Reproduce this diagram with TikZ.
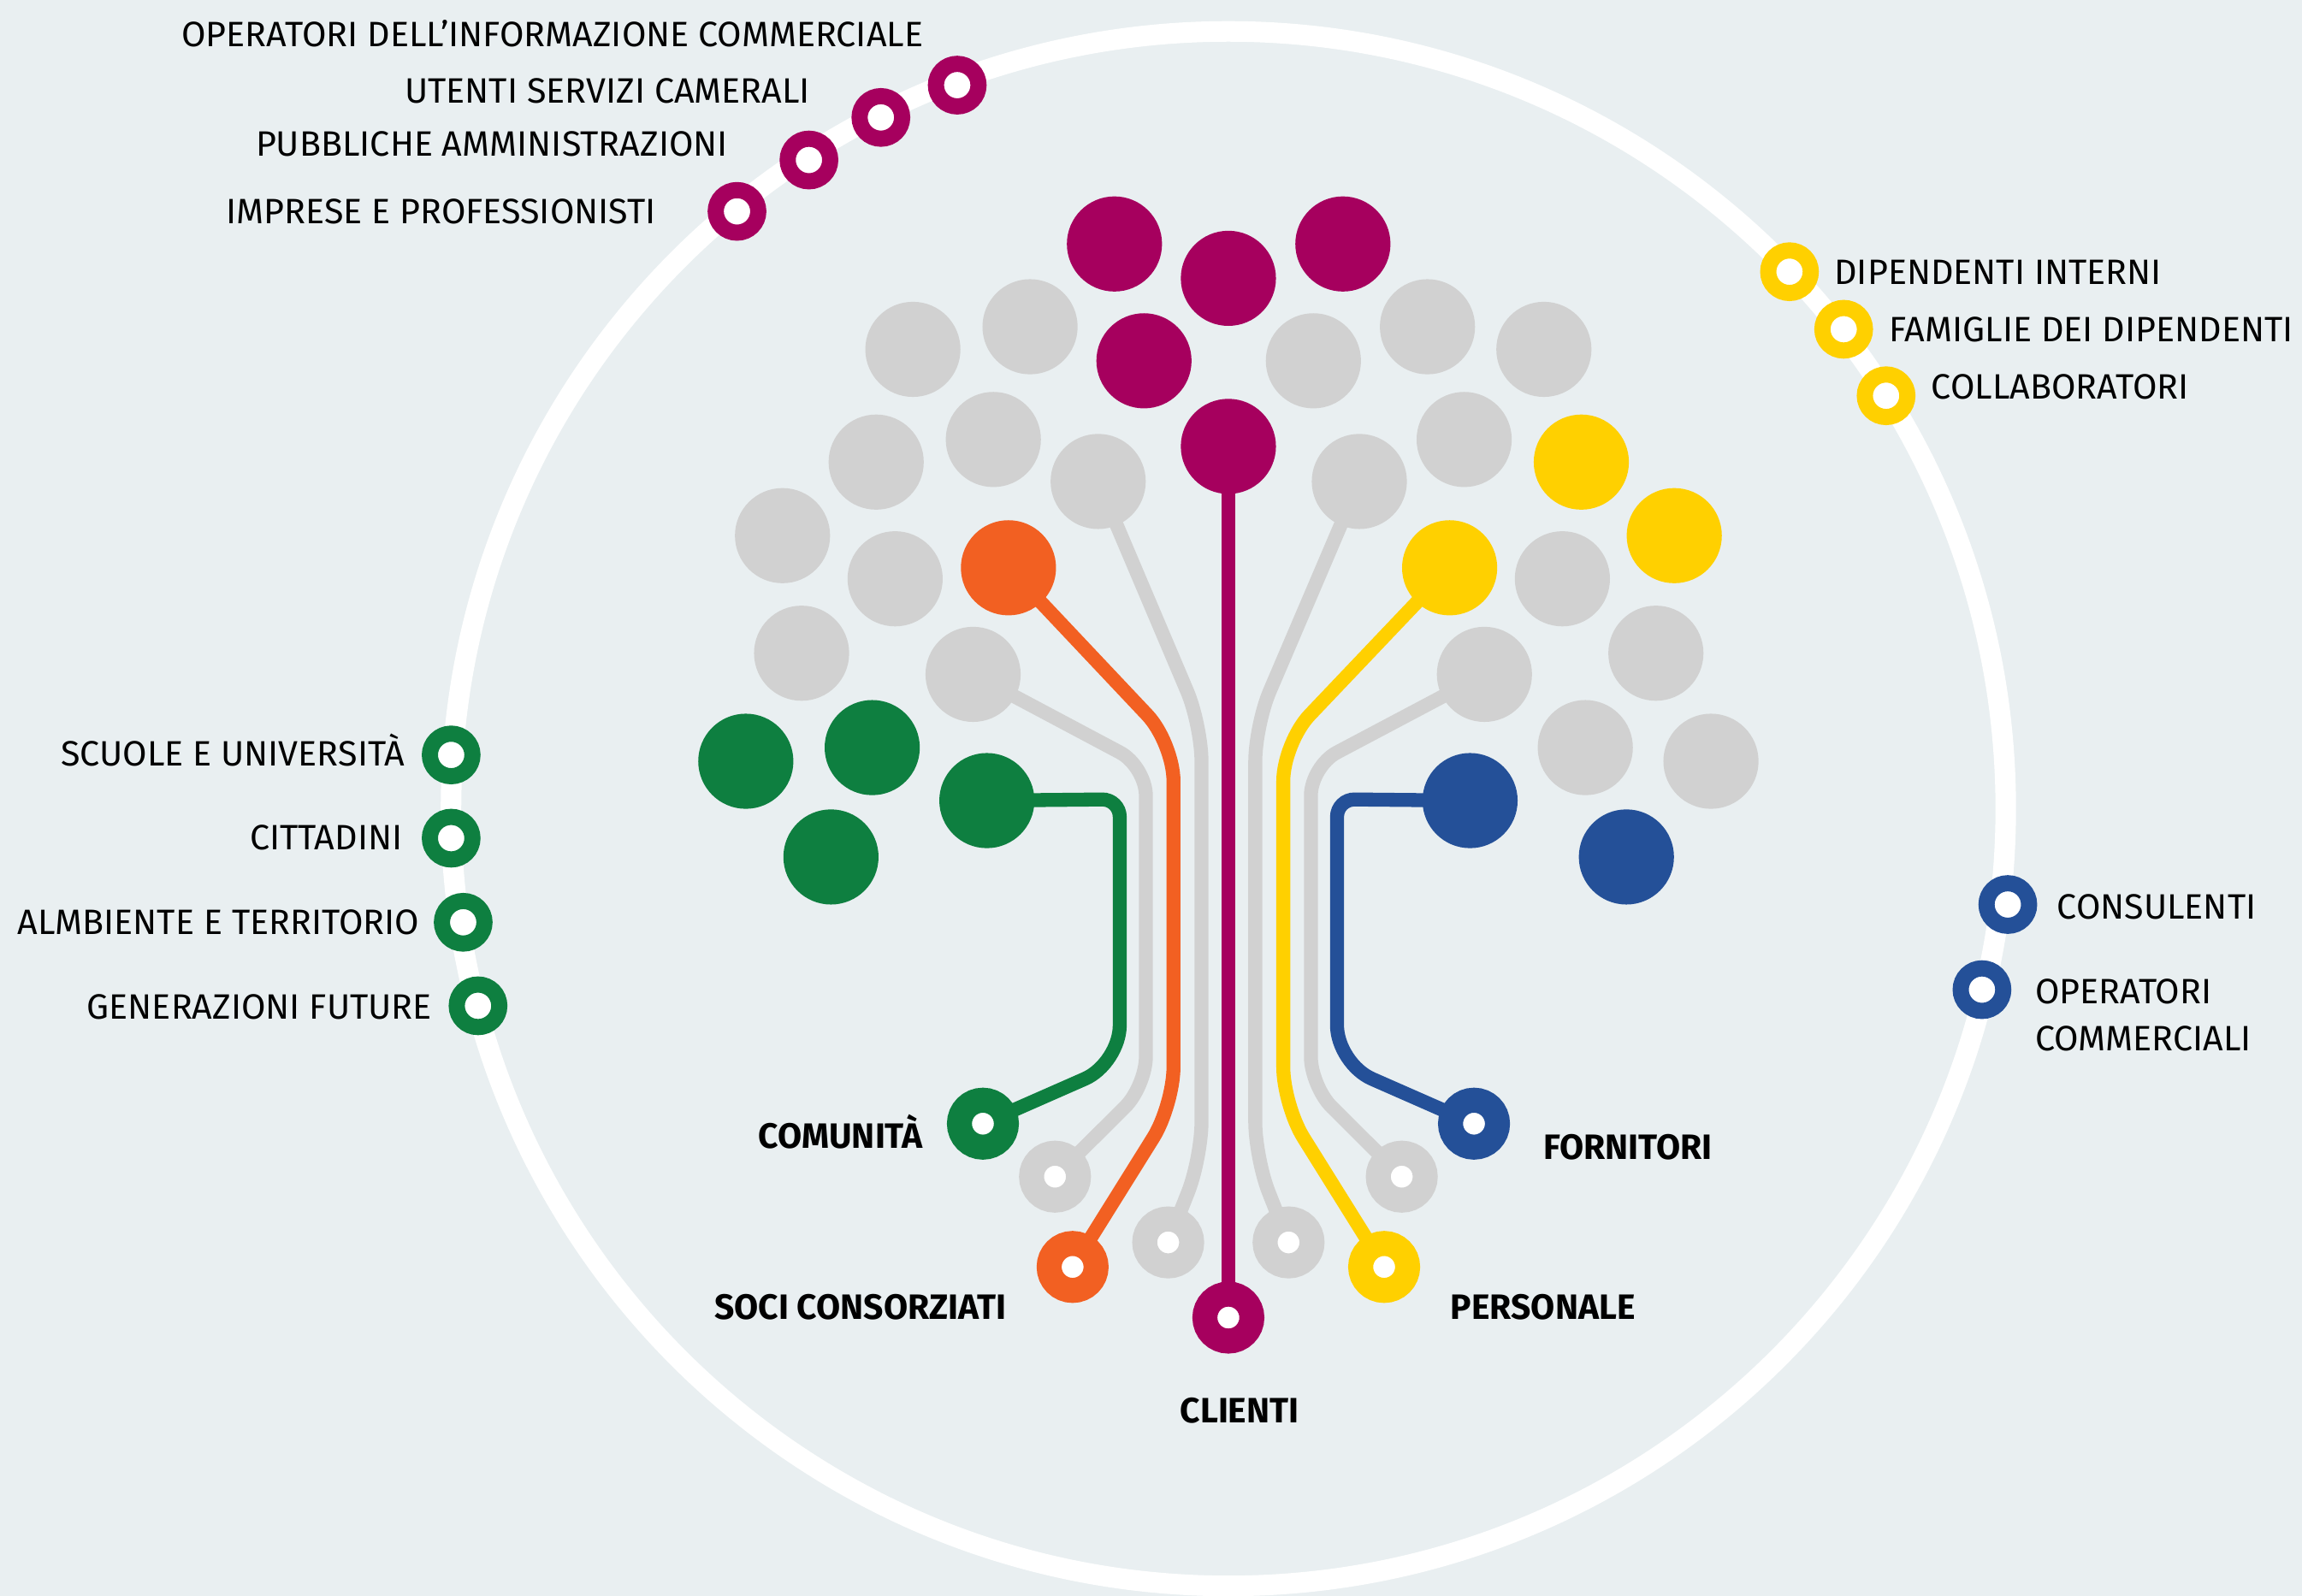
\documentclass[tikz,border=0pt]{standalone}
\usepackage{fontspec}
\setmainfont{Fira Sans}[FakeStretch=1.0, BoldFeatures={FakeStretch=0.99}]
\definecolor{bgc}{RGB}{233,239,241}
\definecolor{mag}{RGB}{166,0,94}
\definecolor{gry}{RGB}{209,209,209}
\definecolor{org}{RGB}{242,96,34}
\definecolor{yel}{RGB}{255,208,0}
\definecolor{grn}{RGB}{14,127,64}
\definecolor{blu}{RGB}{36,80,152}
\pgfdeclarelayer{bg}
\pgfdeclarelayer{wires}
\pgfsetlayers{bg,wires,main}
\tikzset{
  blob/.style={circle, minimum size=64.8pt, inner sep=0pt, outer sep=0pt, draw=none},
  knob/.style={circle, minimum size=29pt, inner sep=0pt, line width=11pt, fill=white},
  bigring/.style={circle, minimum size=32pt, inner sep=0pt, line width=17pt, fill=white},
  conn/.style={line width=9.5pt},
  lbl/.style={inner sep=0pt, text=black, font=\fontsize{24}{32}\selectfont},
  blbl/.style={inner sep=0pt, text=black, font=\fontsize{24}{32}\selectfont\bfseries},
}
\begin{document}
\begin{tikzpicture}[x=1pt,y=-1pt]
\useasboundingbox (0,0) rectangle (1568,1087);
\begin{pgfonlayer}{bg}
\fill[bgc] (0,0) rectangle (1568,1087);
\node[circle, draw=white, line width=14pt, minimum size=1059pt, inner sep=0pt] (orbit) at (836.7,550.9) {};
\end{pgfonlayer}

% ---- blobs ----
\node[blob, fill=mag] (m1) at (759.1,166.2) {};
\node[blob, fill=mag] (m2) at (836.7,189.6) {};
\node[blob, fill=mag] (m3) at (914.7,166.2) {};
\node[blob, fill=mag] (m4) at (779.2,245.8) {};
\node[blob, fill=mag] (m5) at (836.7,304.1) {};

\node[blob, fill=gry] (g1) at (621.8,238) {};
\node[blob, fill=gry] (g2) at (701.6,222.6) {};
\node[blob, fill=gry] (g3) at (894.6,245.8) {};
\node[blob, fill=gry] (g4) at (972.3,222.6) {};
\node[blob, fill=gry] (g5) at (1051.6,238) {};
\node[blob, fill=gry] (g6) at (596.8,314.8) {};
\node[blob, fill=gry] (g7) at (676.6,299.4) {};
\node[blob, fill=gry] (gl1) at (748,328) {};
\node[blob, fill=gry] (gr1) at (925.9,328) {};
\node[blob, fill=gry] (g8) at (997.3,299.4) {};
\node[blob, fill=gry] (g9) at (533,364.9) {};
\node[blob, fill=gry] (g10) at (609.7,394.3) {};
\node[blob, fill=gry] (g11) at (1064.2,394.3) {};
\node[blob, fill=gry] (g12) at (546,445) {};
\node[blob, fill=gry] (gl2) at (662.8,459.4) {};
\node[blob, fill=gry] (gr2) at (1011.1,459.4) {};
\node[blob, fill=gry] (g13) at (1127.9,445) {};
\node[blob, fill=gry] (g14) at (1079.8,509.3) {};
\node[blob, fill=gry] (g15) at (1165.4,518.6) {};

\node[blob, fill=org] (o1) at (686.9,386.8) {};
\node[blob, fill=yel] (y1) at (987.4,386.8) {};
\node[blob, fill=yel] (y2) at (1077.1,314.8) {};
\node[blob, fill=yel] (y3) at (1140.4,364.9) {};
\node[blob, fill=grn] (v1) at (508,518.6) {};
\node[blob, fill=grn] (v2) at (594.1,509.3) {};
\node[blob, fill=grn] (v3) at (566,583.8) {};
\node[blob, fill=grn] (v4) at (672.2,545.4) {};
\node[blob, fill=blu] (b1) at (1001.3,545.4) {};
\node[blob, fill=blu] (b2) at (1107.8,583.8) {};

% ---- bottom rings ----
\node[bigring, draw=grn] (rcom) at (669.5,765.5) {};
\node[bigring, draw=gry] (rgl2) at (718.6,801.6) {};
\node[bigring, draw=org] (rsoc) at (730.6,863.1) {};
\node[bigring, draw=gry] (rgl1) at (795.7,846.4) {};
\node[bigring, draw=mag] (rcli) at (836.7,897.6) {};
\node[bigring, draw=gry] (rgr1) at (877.7,846.4) {};
\node[bigring, draw=yel] (rper) at (942.8,863.1) {};
\node[bigring, draw=gry] (rgr2) at (954.8,801.6) {};
\node[bigring, draw=blu] (rfor) at (1004,765.5) {};

% ---- connectors ----
\begin{pgfonlayer}{wires}
\draw[conn, mag] (m5.center) -- (rcli.center);
\draw[conn, org, rounded corners=26pt] (o1.center) -- (799.3,506) -- (799.3,753) -- (rsoc.center);
\draw[conn, yel, rounded corners=26pt] (y1.center) -- (874.1,506) -- (874.1,753) -- (rper.center);
\draw[conn, gry, rounded corners=25pt] (gl1.center) -- (818.4,494) -- (818.4,789) -- (rgl1.center);
\draw[conn, gry, rounded corners=25pt] (gr1.center) -- (855,494) -- (855,789) -- (rgr1.center);
\draw[conn, gry, rounded corners=20pt] (gl2.center) -- (780.5,522) -- (780.5,740) -- (rgl2.center);
\draw[conn, gry, rounded corners=20pt] (gr2.center) -- (892.9,522) -- (892.9,740) -- (rgr2.center);
\draw[conn, grn] (v4.center) [rounded corners=12pt] -- (762.7,544.5) [rounded corners=26pt] -- (762.7,724.5) -- (rcom.center);
\draw[conn, blu] (b1.center) [rounded corners=12pt] -- (910.7,544.5) [rounded corners=26pt] -- (910.7,724.5) -- (rfor.center);
\end{pgfonlayer}

% ---- outer knobs ----
\node[knob, draw=mag] (k1) at (652,58) {};
\node[knob, draw=mag] (k2) at (600,80) {};
\node[knob, draw=mag] (k3) at (551,109) {};
\node[knob, draw=mag] (k4) at (502,144) {};
\node[knob, draw=yel] (k5) at (1218.9,185.1) {};
\node[knob, draw=yel] (k6) at (1255.8,224.3) {};
\node[knob, draw=yel] (k7) at (1284.7,269.6) {};
\node[knob, draw=grn] (k8) at (307.3,514.3) {};
\node[knob, draw=grn] (k9) at (307.3,571) {};
\node[knob, draw=grn] (k10) at (315.5,628.3) {};
\node[knob, draw=grn] (k11) at (325.6,685.2) {};
\node[knob, draw=blu] (k12) at (1367.6,616.2) {};
\node[knob, draw=blu] (k13) at (1350,674.2) {};

% ---- outer labels ----
\node[lbl, anchor=base east] (t1) at (629,32) {OPERATORI DELL’INFORMAZIONE COMMERCIALE};
\node[lbl, anchor=base east] (t2) at (552,70.3) {UTENTI SERVIZI CAMERALI};
\node[lbl, anchor=base east] (t3) at (496,106.4) {PUBBLICHE AMMINISTRAZIONI};
\node[lbl, anchor=base east] (t4) at (447,152.5) {IMPRESE E PROFESSIONISTI};
\node[lbl, anchor=base west] (t5) at (1249.3,193.8) {DIPENDENTI INTERNI};
\node[lbl, anchor=base west] (t6) at (1286.7,232.7) {FAMIGLIE DEI DIPENDENTI};
\node[lbl, anchor=base west] (t7) at (1315.4,271.9) {COLLABORATORI};
\node[lbl, anchor=base east] (t8) at (275.8,521.5) {SCUOLE E UNIVERSITÀ};
\node[lbl, anchor=base east] (t9) at (274.3,578.8) {CITTADINI};
\node[lbl, anchor=base east] (t10) at (285.9,636.7) {ALMBIENTE E TERRITORIO};
\node[lbl, anchor=base east] (t11) at (294.4,694.4) {GENERAZIONI FUTURE};
\node[lbl, anchor=base west] (t12) at (1401,625.8) {CONSULENTI};
\node[lbl, anchor=base west] (t13) at (1386,683.7) {OPERATORI};
\node[lbl, anchor=base west] (t14) at (1386,715.7) {COMMERCIALI};

% ---- main labels ----
\node[blbl, anchor=base east] (l1) at (628.9,782.2) {COMUNITÀ};
\node[blbl, anchor=base west] (l2) at (1051.2,789.9) {FORNITORI};
\node[blbl, anchor=base east] (l3) at (685.5,898.6) {SOCI CONSORZIATI};
\node[blbl, anchor=base west] (l4) at (987.9,898.6) {PERSONALE};
\node[blbl, anchor=base west] (l5) at (803.7,969.5) {CLIENTI};
\end{tikzpicture}
\end{document}
